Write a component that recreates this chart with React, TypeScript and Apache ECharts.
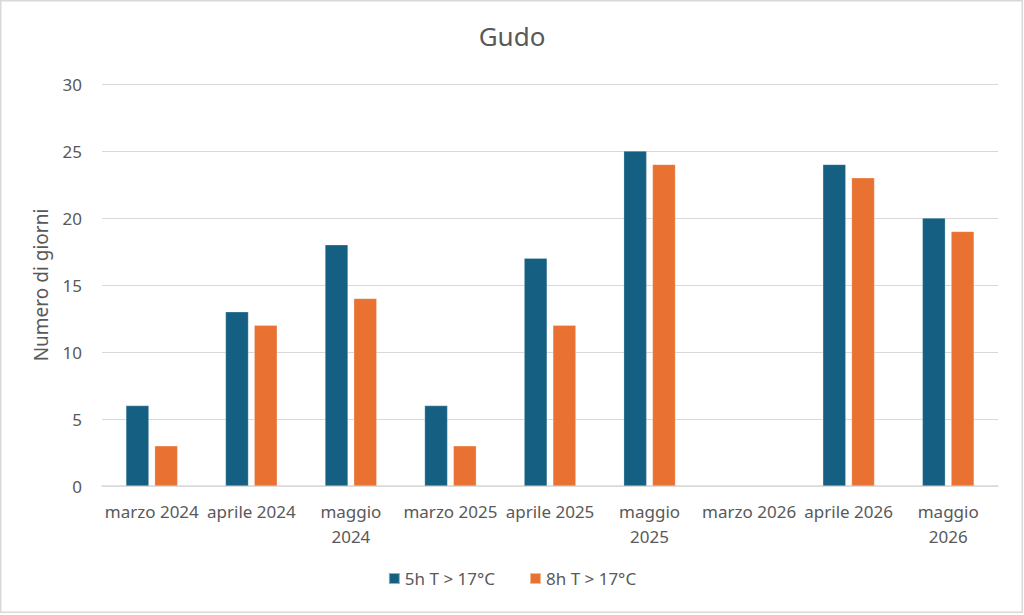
import React, { useEffect, useRef } from "react";
import * as echarts from "echarts";

const categories = [
  "marzo 2024",
  "aprile 2024",
  "maggio 2024",
  "marzo 2025",
  "aprile 2025",
  "maggio 2025",
  "marzo 2026",
  "aprile 2026",
  "maggio 2026",
];
const series5h = [6, 13, 18, 6, 17, 25, null, 24, 20];
const series8h = [3, 12, 14, 3, 12, 24, null, 23, 19];
const seriesNames = ["5h T > 17°C", "8h T > 17°C"];
const title = "Gudo";
const yAxisName = "Numero di giorni";

const FONT = "'Noto Sans', 'Open Sans', sans-serif";
const TEXT = "#595959";

export default function App() {
  const ref = useRef<HTMLDivElement>(null);
  useEffect(() => {
    if (!ref.current) return;
    const chart = echarts.init(ref.current, undefined, { renderer: "svg" });
    chart.setOption({
      animation: false,
      backgroundColor: "#ffffff",
      textStyle: { fontFamily: FONT },
      title: {
        text: title,
        left: "center",
        top: 18,
        textStyle: { fontFamily: FONT, fontSize: 26, fontWeight: "normal", color: TEXT },
      },
      legend: {
        bottom: 23,
        left: "center",
        itemWidth: 11,
        itemHeight: 11,
        itemGap: 34,
        icon: "rect",
        textStyle: { fontFamily: FONT, fontSize: 17, color: TEXT },
        data: seriesNames,
      },
      grid: { left: 102, right: 26, top: 84, bottom: 129, containLabel: false },
      xAxis: {
        type: "category",
        data: categories,
        axisLine: { lineStyle: { color: "#d9d9d9", width: 1.5 } },
        axisTick: { show: false },
        axisLabel: {
          fontFamily: FONT,
          fontSize: 17,
          color: TEXT,
          margin: 13,
          lineHeight: 25,
          interval: 0,
          formatter: (v: string) => (v.startsWith("maggio") ? v.replace(" ", "\n") : v),
        },
      },
      yAxis: {
        type: "value",
        min: 0,
        max: 30,
        interval: 5,
        name: yAxisName,
        nameLocation: "middle",
        nameGap: 52,
        nameTextStyle: { fontFamily: FONT, fontSize: 19, color: TEXT },
        axisLine: { show: false },
        axisTick: { show: false },
        axisLabel: { fontFamily: FONT, fontSize: 17, color: TEXT, margin: 20 },
        splitLine: { lineStyle: { color: "#d9d9d9", width: 1.2 } },
      },
      series: [
        {
          name: seriesNames[0],
          type: "bar",
          data: series5h,
          barWidth: 23,
          barGap: "25%",
          itemStyle: { color: "#156082", borderColor: "rgba(255,255,255,0.5)", borderWidth: 0.5 },
        },
        {
          name: seriesNames[1],
          type: "bar",
          data: series8h,
          barWidth: 23,
          barGap: "25%",
          itemStyle: { color: "#E97132", borderColor: "rgba(255,255,255,0.5)", borderWidth: 0.5 },
        },
      ],
      graphic: [
        {
          type: "rect",
          shape: { x: 0.75, y: 0.75, width: 1021.5, height: 611.5 },
          style: { fill: "none", stroke: "#d9d9d9", lineWidth: 1.5 },
          silent: true,
        },
      ],
    });
    return () => chart.dispose();
  }, []);
  return (
    <div
      ref={ref}
      style={{ position: "fixed", left: 0, top: 0, width: 1024, height: 615 }}
    />
  );
}
